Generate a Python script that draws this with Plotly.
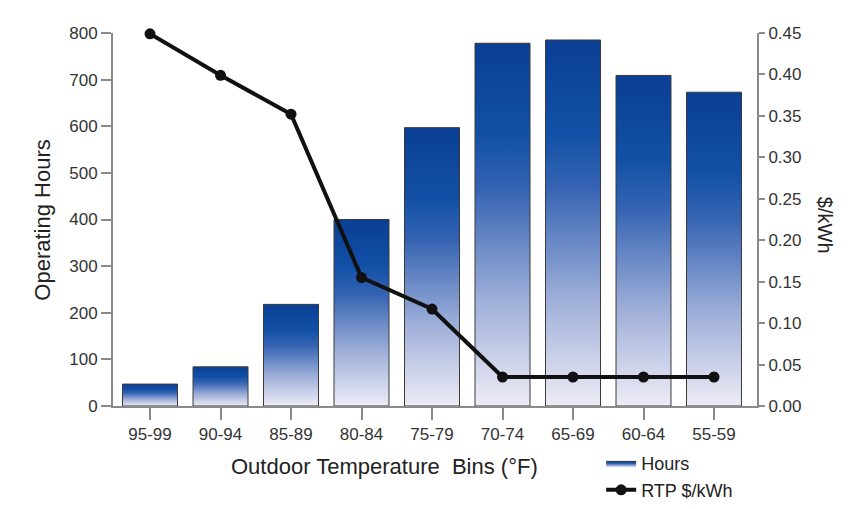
import plotly.graph_objects as go

categories = ["95-99", "90-94", "85-89", "80-84", "75-79", "70-74", "65-69", "60-64", "55-59"]
hours = [47, 84, 218, 400, 597, 778, 785, 709, 673]
rtp = [0.449, 0.399, 0.352, 0.155, 0.117, 0.035, 0.035, 0.035, 0.035]
left_ticks = [0, 100, 200, 300, 400, 500, 600, 700, 800]
right_ticks = [0.0, 0.05, 0.10, 0.15, 0.20, 0.25, 0.30, 0.35, 0.40, 0.45]

BAR_W = 0.78
grad = [[0.0, "#eeecf6"], [0.3, "#9cadd8"], [0.6, "#3463b2"], [0.75, "#1150a6"], [1.0, "#0a3f95"]]
font_fam = "Liberation Sans, Arial, Helvetica, sans-serif"

fig = go.Figure()
for i, (c, h) in enumerate(zip(categories, hours)):
    x0, x1 = i - BAR_W / 2, i + BAR_W / 2
    fig.add_trace(go.Scatter(
        x=[x0, x1, x1, x0, x0], y=[0, 0, h, h, 0],
        mode="lines", fill="toself",
        fillgradient=dict(type="vertical", colorscale=grad),
        line=dict(color="#3a3a3a", width=1),
        name="Hours", legendgroup="hours", showlegend=(i == 0),
        hoverinfo="skip",
    ))

fig.add_trace(go.Scatter(
    x=list(range(len(categories))), y=rtp, yaxis="y2",
    mode="lines+markers", name="RTP $/kWh", cliponaxis=False,
    line=dict(color="#111111", width=4),
    marker=dict(symbol="circle", size=11, color="#111111"),
))

axis_col = "#8a8a8a"
tick_font = dict(size=17, color="#333333", family=font_fam)
fig.update_layout(
    width=850, height=509,
    margin=dict(l=105, r=101, t=25, b=111, autoexpand=False),
    paper_bgcolor="white", plot_bgcolor="white",
    font=dict(family=font_fam, color="#333333"),
    xaxis=dict(
        range=[-0.525, 8.61], tickmode="array",
        tickvals=list(range(len(categories))), ticktext=categories,
        showgrid=False, zeroline=False, showline=True, linecolor=axis_col, linewidth=2,
        ticks="outside", ticklen=12, tickcolor=axis_col, tickwidth=2,
        tickfont=tick_font, automargin=False,
    ),
    yaxis=dict(
        range=[0, 800], tickvals=left_ticks,
        showgrid=False, zeroline=False, showline=True, linecolor=axis_col, linewidth=2,
        ticks="outside", ticklen=10, tickcolor=axis_col, tickwidth=2,
        tickfont=tick_font, automargin=False,
    ),
    yaxis2=dict(
        range=[0, 0.45], tickvals=right_ticks, tickformat=".2f",
        overlaying="y", side="right",
        showgrid=False, zeroline=False, showline=True, linecolor=axis_col, linewidth=2,
        ticks="outside", ticklen=6, tickcolor=axis_col, tickwidth=2,
        tickfont=tick_font, automargin=False,
    ),
    legend=dict(
        x=0.758, y=-0.105, xanchor="left", yanchor="top",
        font=dict(size=18, color="#222222"), tracegroupgap=0,
        bgcolor="rgba(0,0,0,0)", itemwidth=30,
    ),
    annotations=[
        dict(text="Operating Hours", x=-0.109, y=0.499, xref="paper", yref="paper",
             xanchor="center", yanchor="middle",
             textangle=-90, showarrow=False, font=dict(size=22, color="#222222")),
        dict(text="$/kWh", x=1.106, y=0.485, xref="paper", yref="paper",
             xanchor="center", yanchor="middle",
             textangle=90, showarrow=False, font=dict(size=20, color="#222222")),
        dict(text="Outdoor Temperature  Bins (°F)", x=0.422, y=-0.161, xref="paper", yref="paper",
             xanchor="center", yanchor="middle",
             showarrow=False, font=dict(size=22, color="#222222")),
    ],
)

fig.write_html("out.html")
